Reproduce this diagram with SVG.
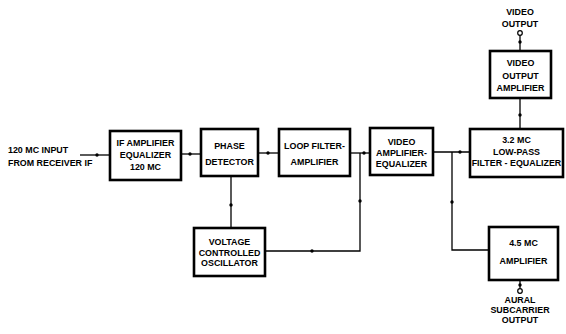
<svg xmlns="http://www.w3.org/2000/svg" width="566" height="334" viewBox="0 0 566 334">
  <style>
    .box { fill: #fff; stroke: #000; stroke-width: 2.6; }
    .wire { fill: none; stroke: #000; stroke-width: 1.3; }
    .dot { fill: #000; }
    .term { fill: #fff; stroke: #000; stroke-width: 1.2; }
    text { font-family: "Liberation Sans", Arial, sans-serif; font-weight: bold; font-size: 8.9px; fill: #000; text-anchor: middle; }
    .left { text-anchor: start; }
  </style>
  <rect width="566" height="334" fill="#fff"/>

  <!-- signal connections -->
  <g id="connectors">
    <path class="wire" d="M80 155 H110"/>
    <path class="wire" d="M181 154 H201"/>
    <path class="wire" d="M258 153 H279"/>
    <path class="wire" d="M350 153 H370"/>
    <path class="wire" d="M360 153 V251 H265"/>
    <path class="wire" d="M231 176 V228"/>
    <path class="wire" d="M433 152 H470"/>
    <path class="wire" d="M452 152 V250 H489"/>
    <path class="wire" d="M520 130 V98"/>
    <path class="wire" d="M520 51 V35.5"/>
    <path class="wire" d="M520 280 V288.5"/>
    <circle class="dot" cx="97" cy="155" r="1.7"/>
    <circle class="dot" cx="190" cy="154" r="1.7"/>
    <circle class="dot" cx="268" cy="153" r="1.7"/>
    <circle class="dot" cx="364" cy="153" r="1.7"/>
    <circle class="dot" cx="360" cy="201" r="1.7"/>
    <circle class="dot" cx="312" cy="251" r="1.7"/>
    <circle class="dot" cx="231" cy="205" r="1.7"/>
    <circle class="dot" cx="460" cy="152" r="1.7"/>
    <circle class="dot" cx="452" cy="202" r="1.7"/>
    <circle class="dot" cx="520" cy="115" r="1.7"/>
    <circle class="dot" cx="520" cy="42" r="1.7"/>
    <circle class="dot" cx="520" cy="285" r="1.7"/>
    <circle class="term" cx="520" cy="33" r="2.3"/>
    <circle class="term" cx="520" cy="291" r="2.3"/>
  </g>

  <g id="input-label">
    <text class="left" x="8" y="153">120 MC INPUT</text>
    <text class="left" x="8" y="166">FROM RECEIVER IF</text>
  </g>

  <g id="if-amplifier">
    <rect class="box" x="110" y="131" width="71" height="49"/>
    <text x="145.5" y="146">IF AMPLIFIER</text>
    <text x="145.5" y="158">EQUALIZER</text>
    <text x="145.5" y="170">120 MC</text>
  </g>

  <g id="phase-detector">
    <rect class="box" x="201" y="129" width="57" height="47"/>
    <text x="229.5" y="149">PHASE</text>
    <text x="229.5" y="165">DETECTOR</text>
  </g>

  <g id="loop-filter">
    <rect class="box" x="279" y="129" width="71" height="47"/>
    <text x="314.5" y="149">LOOP FILTER-</text>
    <text x="314.5" y="165">AMPLIFIER</text>
  </g>

  <g id="video-amplifier">
    <rect class="box" x="370" y="128" width="63" height="47"/>
    <text x="401.5" y="145">VIDEO</text>
    <text x="401.5" y="156">AMPLIFIER-</text>
    <text x="401.5" y="167">EQUALIZER</text>
  </g>

  <g id="low-pass-filter">
    <rect class="box" x="470" y="129" width="93" height="48"/>
    <text x="516.5" y="143">3.2 MC</text>
    <text x="516.5" y="155">LOW-PASS</text>
    <text x="516.5" y="166">FILTER - EQUALIZER</text>
  </g>

  <g id="video-output-amplifier">
    <rect class="box" x="490" y="51" width="61" height="47"/>
    <text x="520.5" y="66">VIDEO</text>
    <text x="520.5" y="79">OUTPUT</text>
    <text x="520.5" y="91">AMPLIFIER</text>
  </g>

  <g id="video-output">
    <text x="520" y="15">VIDEO</text>
    <text x="520" y="27">OUTPUT</text>
  </g>

  <g id="vco">
    <rect class="box" x="194" y="228" width="71" height="48"/>
    <text x="229.5" y="245">VOLTAGE</text>
    <text x="229.5" y="256">CONTROLLED</text>
    <text x="229.5" y="266">OSCILLATOR</text>
  </g>

  <g id="aural-amplifier">
    <rect class="box" x="489" y="227" width="69" height="53"/>
    <text x="523.5" y="246">4.5 MC</text>
    <text x="523.5" y="264">AMPLIFIER</text>
  </g>

  <g id="aural-output">
    <text x="520" y="303">AURAL</text>
    <text x="520" y="313">SUBCARRIER</text>
    <text x="520" y="323">OUTPUT</text>
  </g>
</svg>
